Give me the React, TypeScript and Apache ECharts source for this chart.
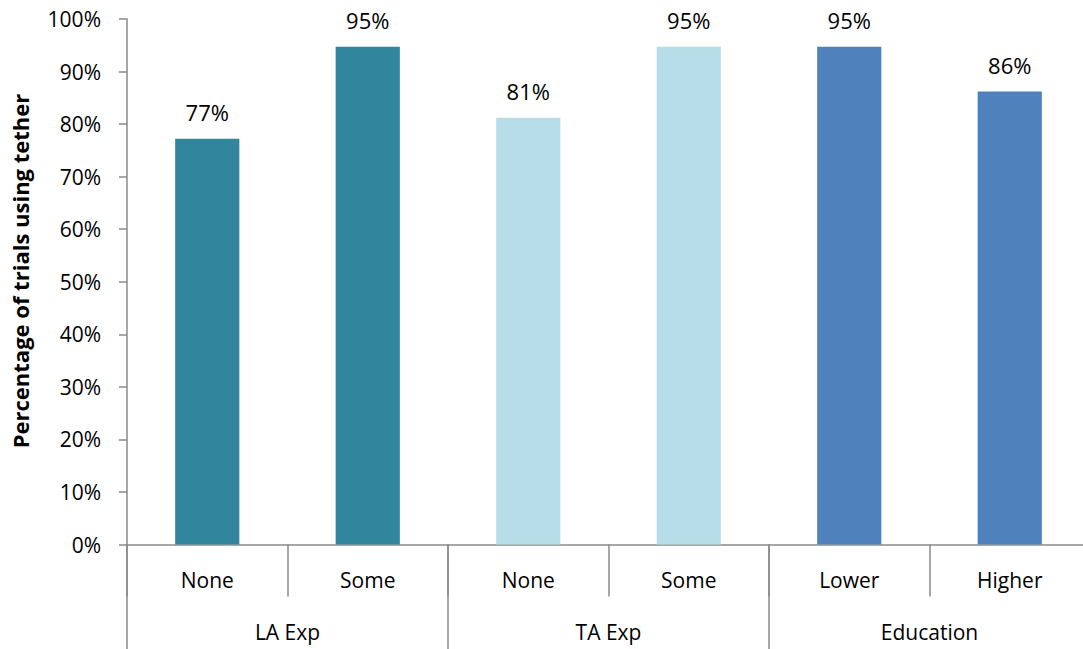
import React, { useEffect, useRef } from "react";
import * as echarts from "echarts";

// Sub-categories along the x axis, and the groups they belong to
const subCategories = ["None", "Some", "None", "Some", "Lower", "Higher"];
const groupCategories = ["LA Exp", "TA Exp", "Education"];

// Share of trials using the tether, in percent
const tetherShare = [77.2, 94.7, 81.2, 94.7, 94.7, 86.2];

// Fill colour of each group's bars
const groupColors = ["#31859C", "#B7DEE8", "#4F81BD"];
const groupOfBar = [0, 0, 1, 1, 2, 2];

const yTicks = { min: 0, max: 100, interval: 10 };
const yTitle = "Percentage of trials using tether";

const FONT = "'Open Sans', sans-serif";
const AXIS_GREY = "#8a8a8a";

export default function App() {
  const ref = useRef<HTMLDivElement>(null);

  useEffect(() => {
    if (!ref.current) return;
    const chart = echarts.init(ref.current, undefined, { renderer: "svg" });

    chart.setOption({
      animation: false,
      backgroundColor: "#ffffff",
      textStyle: { fontFamily: FONT, color: "#000" },
      // plot area runs a few pixels past the right edge of the canvas
      grid: {
        left: 127,
        width: 963,
        top: 19,
        height: 525.5,
        containLabel: false,
        outerBoundsMode: "none",
      },
      xAxis: [
        {
          type: "category",
          data: subCategories,
          position: "bottom",
          axisLine: { show: true, lineStyle: { color: AXIS_GREY, width: 1.5 } },
          axisTick: {
            show: true,
            alignWithLabel: false,
            length: 52,
            lineStyle: { color: AXIS_GREY, width: 1.5 },
          },
          axisLabel: { fontSize: 21, color: "#000", margin: 25, fontFamily: FONT },
        },
        {
          type: "category",
          data: groupCategories,
          position: "bottom",
          offset: 0,
          axisLine: { show: false },
          axisTick: {
            show: true,
            alignWithLabel: false,
            length: 110,
            lineStyle: { color: AXIS_GREY, width: 1.5 },
          },
          axisLabel: { fontSize: 21, color: "#000", margin: 77, fontFamily: FONT },
        },
      ],
      yAxis: {
        type: "value",
        min: yTicks.min,
        max: yTicks.max,
        interval: yTicks.interval,
        axisLine: { show: true, lineStyle: { color: AXIS_GREY, width: 1.5 } },
        axisTick: { show: true, length: 8, lineStyle: { color: AXIS_GREY, width: 1.5 } },
        splitLine: { show: false },
        axisLabel: {
          fontSize: 21,
          color: "#000",
          margin: 26,
          fontFamily: FONT,
          formatter: "{value}%",
        },
      },
      graphic: [
        {
          type: "text",
          x: 20,
          y: 271,
          rotation: Math.PI / 2,
          style: {
            text: yTitle,
            font: `bold 22px ${FONT}`,
            fill: "#000",
            align: "center",
            verticalAlign: "middle",
          },
        },
      ],
      series: [
        {
          type: "bar",
          xAxisIndex: 0,
          barWidth: "40%",
          data: tetherShare.map((v, i) => ({
            value: v,
            itemStyle: { color: groupColors[groupOfBar[i]] },
          })),
          label: {
            show: true,
            position: "top",
            distance: 16,
            fontSize: 22,
            color: "#000",
            fontFamily: FONT,
            formatter: (p: any) => `${Math.round(p.value)}%`,
          },
        },
      ],
    });

    return () => chart.dispose();
  }, []);

  return (
    <div
      ref={ref}
      style={{ position: "fixed", left: 0, top: 0, width: 1083, height: 649 }}
    />
  );
}
